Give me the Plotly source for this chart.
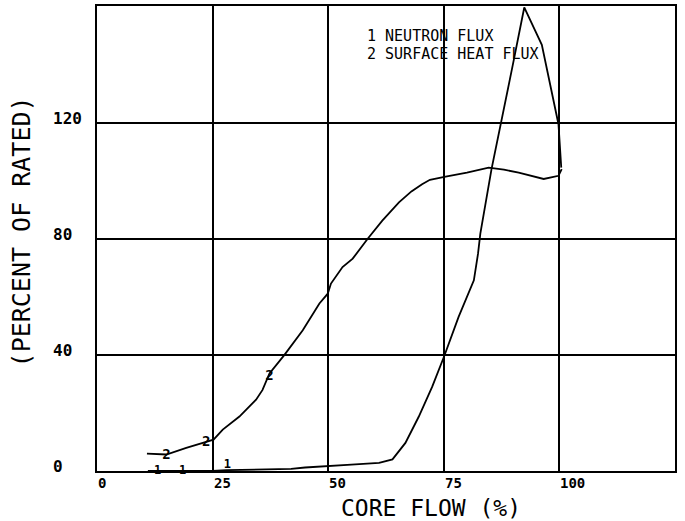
import plotly.graph_objects as go

# Neutron flux (curve 1), percent of rated vs core flow (%)
flow_neutron = [11, 13, 18.5, 25, 28, 35, 42, 45, 50, 55, 61, 63.9, 66.7, 69.6,
                72.5, 75.1, 78.2, 81.5, 82.4, 82.9, 85.3, 87.4, 89.9, 92.4,
                96.2, 99.8, 100.4]
pct_neutron = [0, 0, 0, 0, 0.3, 0.5, 0.7, 1.2, 1.6, 2.2, 2.8, 4, 9.7, 18.8,
               29.1, 39.7, 53.2, 65.8, 75, 81.9, 104, 120, 140, 160,
               147.1, 119.7, 104.7]

# Surface heat flux (curve 2)
flow_heat = [10.8, 15, 19.3, 22.8, 25.2, 27.2, 30.8, 34.4, 35.8, 37.3, 40.5,
             44.5, 45.9, 48.1, 49.9, 50.6, 53.1, 55.3, 58.5, 61.7, 65.3, 68,
             70.3, 72, 75.4, 80, 84.7, 88, 91.2, 96.6, 99.8, 100.5]
pct_heat = [6.0, 5.7, 8, 9.7, 10.8, 14.3, 18.8, 24.6, 28, 33.7, 40,
            48.6, 52, 57.8, 61.2, 64.7, 70.4, 73.3, 80.1, 86.4, 92.7, 96.5,
            99, 100.5, 101.6, 103, 104.7, 104, 103, 100.8, 101.9, 104.2]

# Curve identifier symbols plotted along each trace
id1_x = [13.1, 18.5, 28.2]
id1_y = [0, 0, 2.2]
id2_x = [15, 23.6, 37.3]
id2_y = [5.3, 10, 32.6]

x_ticks = [0, 25, 50, 75, 100]
x_tick_labels = ["0", "25", "50", "75", "100"]
y_ticks = [0, 40, 80, 120]
y_tick_labels = ["0", "40", "80", "120"]

legend_lines = ["1 NEUTRON FLUX", "2 SURFACE HEAT FLUX"]

FONT = "DejaVu Sans Mono"
INK = "black"

fig = go.Figure()
fig.add_trace(go.Scatter(x=flow_neutron, y=pct_neutron, mode="lines",
                         line=dict(color=INK, width=1.8), showlegend=False))
fig.add_trace(go.Scatter(x=flow_heat, y=pct_heat, mode="lines",
                         line=dict(color=INK, width=1.8), showlegend=False))
fig.add_trace(go.Scatter(x=id1_x, y=id1_y, mode="text", text=["1"] * len(id1_x),
                         textfont=dict(family=FONT, size=12, color=INK, weight="bold"),
                         showlegend=False, cliponaxis=False))
fig.add_trace(go.Scatter(x=id2_x, y=id2_y, mode="text", text=["2"] * len(id2_x),
                         textfont=dict(family=FONT, size=14, color=INK, weight="bold"),
                         showlegend=False))

annotations = []
for v, t in zip(x_ticks, x_tick_labels):
    annotations.append(dict(x=v, y=0, xref="x", yref="y", text=t, showarrow=False,
                            xanchor="left", yanchor="middle", yshift=-11.5, borderpad=0,
                            font=dict(family=FONT, size=14, color=INK, weight="bold")))
for v, t in zip(y_ticks, y_tick_labels):
    annotations.append(dict(x=-0.078, y=v, xref="paper", yref="y", text=t, showarrow=False,
                            xanchor="left", yanchor="middle", yshift=5, borderpad=0,
                            font=dict(family=FONT, size=16, color=INK, weight="bold")))

for i, line in enumerate(legend_lines):
    annotations.append(dict(x=58.2, y=150.3 - 6.4 * i, xref="x", yref="y", text=line,
                            showarrow=False, xanchor="left", yanchor="middle", borderpad=0,
                            font=dict(family=FONT, size=15, color=INK)))

annotations.append(dict(x=0.578, y=-0.079, xref="paper", yref="paper", text="CORE FLOW (%)",
                        showarrow=False, xanchor="center", yanchor="middle", borderpad=0,
                        font=dict(family=FONT, size=23, color=INK)))
annotations.append(dict(x=-0.13, y=0.515, xref="paper", yref="paper",
                        text="(PERCENT OF RATED)", textangle=-90, showarrow=False,
                        xanchor="center", yanchor="middle", borderpad=0,
                        font=dict(family=FONT, size=25, color=INK)))

fig.update_layout(
    width=685, height=521,
    margin=dict(l=97, r=10, t=4, b=50),
    paper_bgcolor="white", plot_bgcolor="white",
    annotations=annotations,
    xaxis=dict(range=[0, 125], tickvals=x_ticks, showticklabels=False, ticks="",
               showgrid=True, gridcolor=INK, gridwidth=2, zeroline=False,
               showline=True, mirror=True, linecolor=INK, linewidth=2),
    yaxis=dict(range=[0, 160.5], tickvals=y_ticks, showticklabels=False, ticks="",
               showgrid=True, gridcolor=INK, gridwidth=2, zeroline=False,
               showline=True, mirror=True, linecolor=INK, linewidth=2),
)

fig.write_html("out.html")
